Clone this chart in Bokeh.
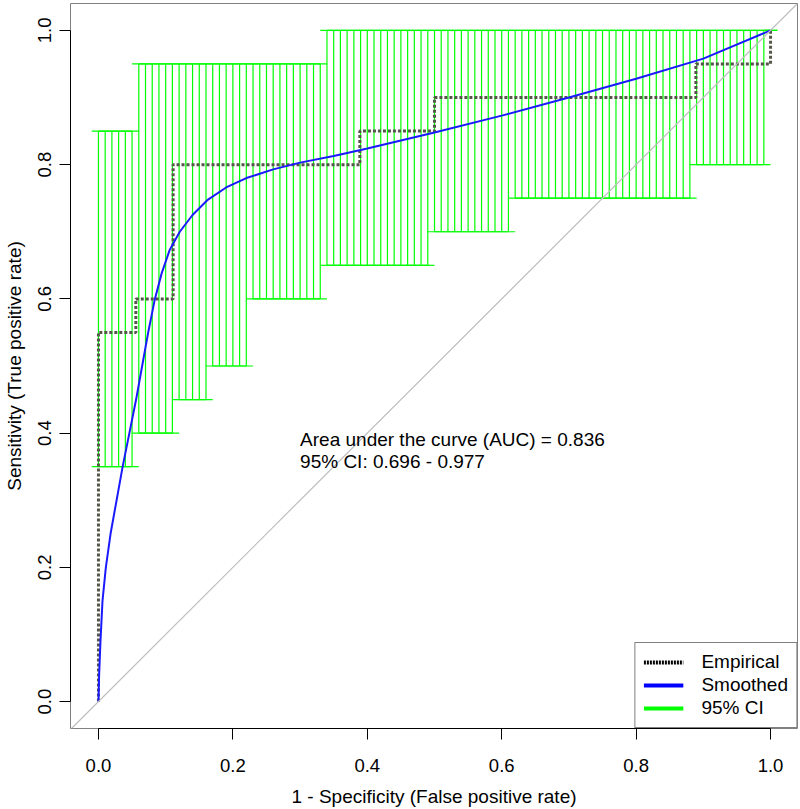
import numpy as np
from bokeh.plotting import figure
from bokeh.models import Range1d, FixedTicker, Legend, LegendItem, Label, Slope
from bokeh.embed import file_html
from bokeh.resources import INLINE

# ---------------- data ----------------
# empirical ROC coordinates (1 - specificity, sensitivity)
emp_fpr = [0.0, 0.0, 0.0556, 0.0556, 0.1111, 0.1111, 0.3889, 0.3889,
           0.5, 0.5, 0.8889, 0.8889, 1.0, 1.0]
emp_sens = [0.0, 0.55, 0.55, 0.60, 0.60, 0.80, 0.80, 0.85,
            0.85, 0.90, 0.90, 0.95, 0.95, 1.0]

# smoothed ROC curve
smooth_fpr = [0.0, 0.001, 0.003, 0.006, 0.011, 0.018, 0.027, 0.036, 0.046,
              0.056, 0.065, 0.074, 0.084, 0.094, 0.106, 0.121, 0.140, 0.163,
              0.190, 0.220, 0.260, 0.300, 0.350, 0.400, 0.500, 0.600, 0.700,
              0.800, 0.900, 1.0]
smooth_sens = [0.0, 0.04, 0.09, 0.15, 0.20, 0.25, 0.30, 0.35, 0.40,
               0.45, 0.50, 0.55, 0.60, 0.638, 0.673, 0.700, 0.725, 0.748,
               0.766, 0.780, 0.793, 0.803, 0.813, 0.824, 0.848, 0.873, 0.900,
               0.928, 0.958, 1.0]

# 95% CI of sensitivity at 1 - specificity = 0, 0.01, ..., 1
ci_fpr = [round(i / 100, 2) for i in range(101)]
ci_lower = ([0.35] * 6 + [0.40] * 6 + [0.45] * 5 + [0.50] * 6 + [0.60] * 11 +
            [0.65] * 16 + [0.70] * 12 + [0.75] * 27 + [0.80] * 11 + [1.0] * 1)
ci_upper = [0.85] * 6 + [0.95] * 28 + [1.0] * 67

auc = 0.836
auc_ci_low = 0.696
auc_ci_high = 0.977

tick_values = [0.0, 0.2, 0.4, 0.6, 0.8, 1.0]
tick_labels = ["0.0", "0.2", "0.4", "0.6", "0.8", "1.0"]

legend_labels = ["Empirical", "Smoothed", "95% CI"]

# ---------------- figure ----------------
FONT = "Liberation Sans"
p = figure(width=800, height=809, output_backend="svg", toolbar_location=None,
           x_range=Range1d(-0.0416, 1.0401), y_range=Range1d(-0.0401, 1.0401),
           min_border_left=69, min_border_right=3, min_border_top=3,
           min_border_bottom=79)
p.grid.visible = False
p.outline_line_color = "#808080"
p.outline_line_width = 1
p.background_fill_color = "white"
p.border_fill_color = "white"

for ax in (p.xaxis[0], p.yaxis[0]):
    ax.ticker = FixedTicker(ticks=tick_values)
    ax.major_label_overrides = {v: s for v, s in zip(tick_values, tick_labels)}
    ax.bounds = (0, 1)
    ax.minor_tick_line_color = None
    ax.major_tick_out = 11
    ax.major_tick_in = 0
    ax.major_tick_line_color = "black"
    ax.axis_line_color = "black"
    ax.major_label_text_font = FONT
    ax.major_label_text_font_size = "18.5px"
    ax.major_label_text_color = "black"
    ax.axis_label_text_font = FONT
    ax.axis_label_text_font_size = "19px"
    ax.axis_label_text_font_style = "normal"
    ax.axis_label_text_color = "black"

p.xaxis.axis_label = "1 - Specificity (False positive rate)"
p.xaxis.major_label_standoff = 19
p.xaxis.axis_label_standoff = 11
p.yaxis.axis_label = "Sensitivity (True positive rate)"
p.yaxis.major_label_orientation = "parallel"
p.yaxis.major_label_standoff = 8
p.yaxis.axis_label_standoff = 11

GREEN = "#00ff00"
cap = 0.01
p.segment(x0=ci_fpr, y0=ci_lower, x1=ci_fpr, y1=ci_upper,
          line_color=GREEN, line_width=1.2)
p.segment(x0=[f - cap for f in ci_fpr], y0=ci_lower,
          x1=[f + cap for f in ci_fpr], y1=ci_lower,
          line_color=GREEN, line_width=1.2)
p.segment(x0=[f - cap for f in ci_fpr], y0=ci_upper,
          x1=[f + cap for f in ci_fpr], y1=ci_upper,
          line_color=GREEN, line_width=1.2)

p.add_layout(Slope(gradient=1, y_intercept=0, line_color="#bebebe",
                   line_width=1.2))

p.line(emp_fpr, emp_sens, line_color="#55554a", line_width=3,
       line_dash="3 2")
p.line(smooth_fpr, smooth_sens, line_color="#1a1aff", line_width=2)

# legend-only glyphs (no visible data)
nan = [float("nan")]
r_e = p.line(x=nan, y=nan, line_color="black", line_width=4, line_dash="2 1")
r_s = p.line(x=nan, y=nan, line_color="#0000ff", line_width=4)
r_c = p.line(x=nan, y=nan, line_color=GREEN, line_width=4)
legend = Legend(items=[LegendItem(label=legend_labels[0], renderers=[r_e]),
                       LegendItem(label=legend_labels[1], renderers=[r_s]),
                       LegendItem(label=legend_labels[2], renderers=[r_c])],
                location="bottom_right", margin=0, padding=8, spacing=1,
                glyph_width=40, glyph_height=20, label_height=20,
                label_standoff=18, border_line_color="black",
                border_line_width=1, background_fill_color="white",
                background_fill_alpha=1.0, label_text_font=FONT,
                label_text_font_size="19px", label_text_color="black")
p.add_layout(legend)

p.add_layout(Label(x=0.3, y=0.391, text=f"Area under the curve (AUC) = {auc:.3f}",
                   text_baseline="middle", text_align="left",
                   text_font=FONT, text_font_size="19px", text_color="black"))
p.add_layout(Label(x=0.3, y=0.358,
                   text=f"95% CI: {auc_ci_low:.3f} - {auc_ci_high:.3f}",
                   text_baseline="middle", text_align="left",
                   text_font=FONT, text_font_size="19px", text_color="black"))

open("out.html", "w").write(file_html(p, INLINE))
